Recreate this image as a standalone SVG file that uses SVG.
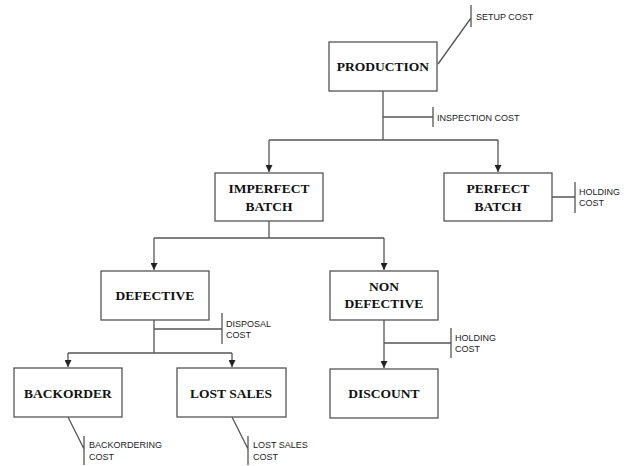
<svg xmlns="http://www.w3.org/2000/svg" width="626" height="466" viewBox="0 0 626 466">
<style>
.box{fill:#fff;stroke:#555;stroke-width:1.3}
.t{font-family:"Liberation Serif","Times New Roman",serif;font-weight:bold;font-size:13.5px;fill:#111;text-anchor:middle}
.s{font-family:"Liberation Sans",Arial,sans-serif;font-size:9px;fill:#222}
.c{fill:none;stroke:#555;stroke-width:1.3}
</style>
<defs>
<marker id="ah" viewBox="0 0 10 10" refX="10" refY="5" markerWidth="7" markerHeight="7" markerUnits="userSpaceOnUse" orient="auto">
<path d="M0,0 L10,5 L0,10 z" fill="#222"/>
</marker>
</defs>
<rect width="626" height="466" fill="#fff"/>
<g id="connectors">
<path class="c" d="M383,91 V140 M269,140 H498"/>
<path class="c" d="M269,140 V172" marker-end="url(#ah)"/>
<path class="c" d="M498,140 V172" marker-end="url(#ah)"/>
<path class="c" d="M383,117 H433 M433,107 V127"/>
<path class="c" d="M438,64 L471,18 M471,5 V27"/>
<path class="c" d="M552,197 H575 M575,182 V213"/>
<path class="c" d="M269,221 V238 M154,238 H384"/>
<path class="c" d="M154,238 V270" marker-end="url(#ah)"/>
<path class="c" d="M384,238 V270" marker-end="url(#ah)"/>
<path class="c" d="M154,320 V353 M68,353 H232"/>
<path class="c" d="M154,329 H222 M222,313 V344"/>
<path class="c" d="M68,353 V367" marker-end="url(#ah)"/>
<path class="c" d="M232,353 V367" marker-end="url(#ah)"/>
<path class="c" d="M384,320 V368" marker-end="url(#ah)"/>
<path class="c" d="M384,343 H451 M451,328 V358"/>
<path class="c" d="M68,417 L84,449 M84,436 V465"/>
<path class="c" d="M232,417 L248,449 M248,436 V465"/>
</g>
<g id="production"><rect class="box" x="329" y="42" width="108" height="49"/><text class="t" x="383" y="71">PRODUCTION</text></g>
<g id="imperfect"><rect class="box" x="215" y="173" width="108" height="48"/><text class="t" x="269" y="193">IMPERFECT</text><text class="t" x="269" y="211">BATCH</text></g>
<g id="perfect"><rect class="box" x="444" y="173" width="108" height="48"/><text class="t" x="498" y="193">PERFECT</text><text class="t" x="498" y="211">BATCH</text></g>
<g id="defective"><rect class="box" x="101" y="271" width="108" height="49"/><text class="t" x="155" y="300">DEFECTIVE</text></g>
<g id="nondefective"><rect class="box" x="330" y="271" width="108" height="49"/><text class="t" x="384" y="291">NON</text><text class="t" x="384" y="308">DEFECTIVE</text></g>
<g id="backorder"><rect class="box" x="14" y="368" width="108" height="49"/><text class="t" x="68" y="398">BACKORDER</text></g>
<g id="lostsales"><rect class="box" x="177" y="368" width="109" height="49"/><text class="t" x="231" y="398">LOST SALES</text></g>
<g id="discount"><rect class="box" x="330" y="369" width="108" height="49"/><text class="t" x="384" y="398">DISCOUNT</text></g>
<g id="labels">
<text class="s" x="476" y="20">SETUP COST</text>
<text class="s" x="437" y="121">INSPECTION COST</text>
<text class="s" x="579" y="195">HOLDING</text><text class="s" x="579" y="206">COST</text>
<text class="s" x="226" y="327">DISPOSAL</text><text class="s" x="226" y="338">COST</text>
<text class="s" x="455" y="341">HOLDING</text><text class="s" x="455" y="352">COST</text>
<text class="s" x="89" y="448">BACKORDERING</text><text class="s" x="89" y="460">COST</text>
<text class="s" x="253" y="448">LOST SALES</text><text class="s" x="253" y="460">COST</text>
</g>
</svg>
